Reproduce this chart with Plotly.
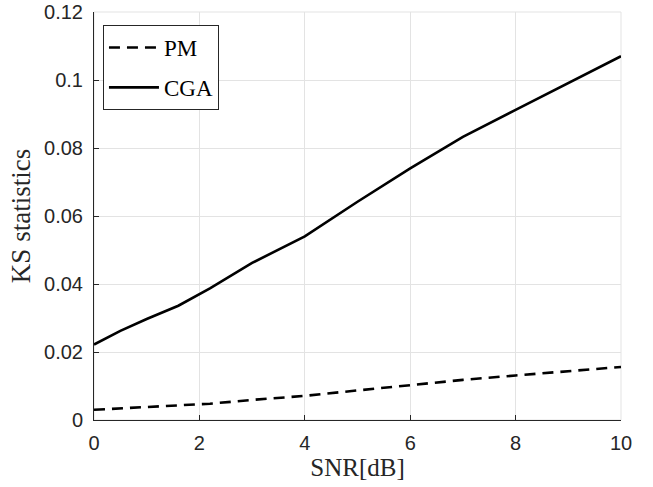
import plotly.graph_objects as go

snr = [0, 0.5, 1, 1.6, 2.2, 3, 4, 5, 6, 7, 8, 9, 10]
pm = [0.0030, 0.0034, 0.0038, 0.0042, 0.0048, 0.0059, 0.0071, 0.0087, 0.0103, 0.0118, 0.0131, 0.0144, 0.0156]
cga = [0.0222, 0.0262, 0.0297, 0.0336, 0.0387, 0.0462, 0.0540, 0.0642, 0.0740, 0.0833, 0.0912, 0.0992, 0.1070]

xticks = [0, 2, 4, 6, 8, 10]
yticks = [0, 0.02, 0.04, 0.06, 0.08, 0.1, 0.12]
ytick_text = ["0", "0.02", "0.04", "0.06", "0.08", "0.1", "0.12"]

fig = go.Figure()
fig.add_trace(go.Scatter(x=snr, y=pm, mode="lines", name="PM", legendgroup="a",
                         line=dict(color="black", width=2.6, dash="11px,7px")))
fig.add_trace(go.Scatter(x=snr, y=cga, mode="lines", name="CGA", legendgroup="b",
                         line=dict(color="black", width=2.6)))

axis_common = dict(showgrid=True, gridcolor="#e3e3e3", gridwidth=1,
                   showline=True, linecolor="#262626", linewidth=1,
                   ticks="inside", ticklen=5, tickcolor="#262626",
                   tickfont=dict(family="Liberation Sans, Arial", size=20, color="#262626"),
                   zeroline=False, mirror=False, automargin=False)

serif = "Liberation Serif, Times New Roman"
fig.update_layout(
    width=653, height=487,
    margin=dict(l=94, r=32, t=12, b=67),
    paper_bgcolor="white", plot_bgcolor="white",
    xaxis=dict(range=[0, 10], tickvals=xticks, ticklabelstandoff=5,
               title=dict(text="SNR[dB]", font=dict(family=serif, size=25, color="#262626"), standoff=0),
               **axis_common),
    yaxis=dict(range=[0, 0.12], tickvals=yticks, ticktext=ytick_text, ticklabelstandoff=6,
               title=dict(text="KS statistics", font=dict(family=serif, size=27, color="#262626"), standoff=5),
               **axis_common),
    legend=dict(x=0.017, y=0.968, xanchor="left", yanchor="top",
                bgcolor="white", bordercolor="#262626", borderwidth=1,
                font=dict(family=serif, size=23, color="black"),
                itemwidth=50, tracegroupgap=7, traceorder="grouped"),
    shapes=[dict(type="rect", xref="paper", yref="paper", x0=0, y0=0, x1=1, y1=1,
                 line=dict(color="#e3e3e3", width=1), layer="below")],
)

fig.write_html("out.html", config={"displayModeBar": False},
               post_script="document.body.style.margin='0px';")
